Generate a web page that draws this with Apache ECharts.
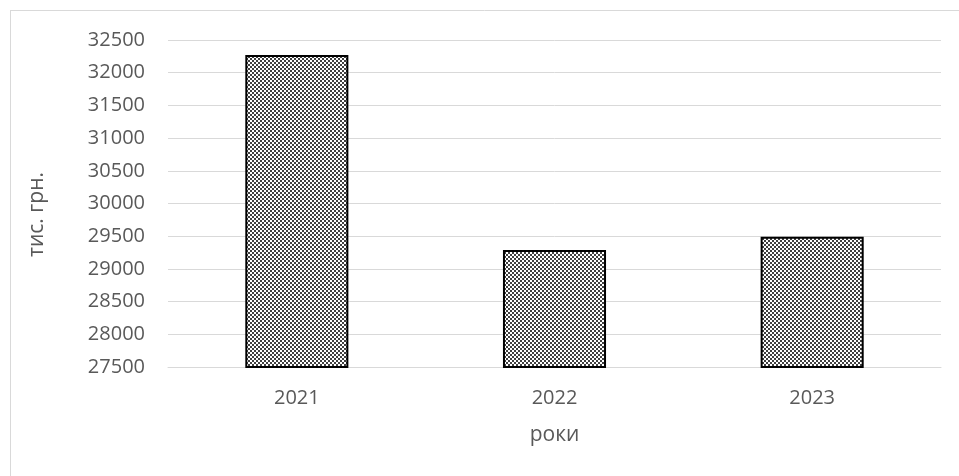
<!DOCTYPE html>
<html>
<head>
<meta charset="utf-8">
<script src="https://cdn.jsdelivr.net/npm/echarts@6/dist/echarts.min.js"></script>
<style>
  html, body { margin: 0; padding: 0; background: #fff; }
  #chart { width: 959px; height: 476px; }
</style>
</head>
<body>
<div id="chart"></div>
<script>
// Річні значення, тис. грн.
const years = ['2021', '2022', '2023'];
const values = [32270, 29290, 29490];
const yMin = 27500;
const yMax = 32500;
const yStep = 500;

// Шахова штриховка стовпців
function checkerPattern() {
  const c = document.createElement('canvas');
  c.width = 4; c.height = 4;
  const ctx = c.getContext('2d');
  ctx.fillStyle = '#ffffff';
  ctx.fillRect(0, 0, 4, 4);
  ctx.fillStyle = '#404040';
  ctx.fillRect(0, 0, 2, 2);
  ctx.fillRect(2, 2, 2, 2);
  return c;
}

const font = '"Open Sans", "DejaVu Sans", sans-serif';
const chart = echarts.init(document.getElementById('chart'), null, { renderer: 'canvas' });
chart.setOption({
  animation: false,
  backgroundColor: '#ffffff',
  graphic: [
    { type: 'line', shape: { x1: 10, y1: 10.5, x2: 959, y2: 10.5 }, style: { stroke: '#d9d9d9', lineWidth: 1 } },
    { type: 'line', shape: { x1: 10.5, y1: 10, x2: 10.5, y2: 476 }, style: { stroke: '#d9d9d9', lineWidth: 1 } }
  ],
  grid: { left: 168, right: 18, top: 40, bottom: 109 },
  xAxis: {
    type: 'category',
    data: years,
    name: 'роки',
    nameLocation: 'middle',
    nameGap: 58,
    nameTextStyle: { fontFamily: font, fontSize: 21, color: '#595959' },
    axisLine: { show: true, lineStyle: { color: '#d9d9d9', width: 1 } },
    axisTick: { show: false },
    axisLabel: { fontFamily: font, fontSize: 20, color: '#595959', margin: 21 }
  },
  yAxis: {
    type: 'value',
    min: yMin,
    max: yMax,
    interval: yStep,
    name: 'тис. грн.',
    nameLocation: 'middle',
    nameGap: 120,
    nameRotate: 90,
    nameTextStyle: { fontFamily: font, fontSize: 21, color: '#595959', padding: [0, 22, 0, 0] },
    axisLine: { show: false },
    axisTick: { show: false },
    splitLine: { lineStyle: { color: '#d9d9d9', width: 1 } },
    axisLabel: {
      fontFamily: font, fontSize: 20, color: '#595959', margin: 23,
      formatter: (v) => String(v)
    }
  },
  series: [{
    type: 'bar',
    data: values,
    barWidth: '40%',
    itemStyle: {
      color: { image: checkerPattern(), repeat: 'repeat' },
      borderColor: '#000000',
      borderWidth: 2
    }
  }]
});
</script>
</body>
</html>
